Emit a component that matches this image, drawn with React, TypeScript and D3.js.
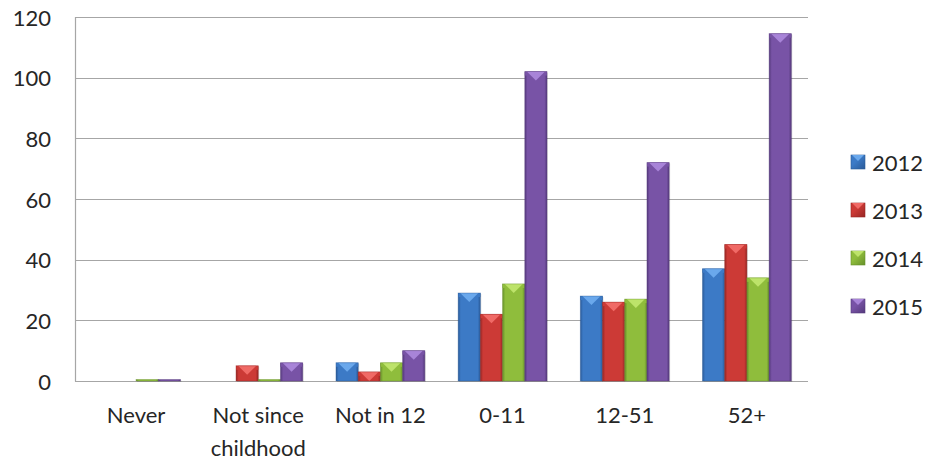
import React from "react";
import * as d3 from "d3";

const categories = ["Never", "Not since childhood", "Not in 12", "0-11", "12-51", "52+"];
const seriesNames = ["2012", "2013", "2014", "2015"];
const values2012 = [0, 0, 6, 29, 28, 37];
const values2013 = [0, 5, 3, 22, 26, 45];
const values2014 = [0.5, 0.5, 6, 32, 27, 34];
const values2015 = [0.5, 6, 10, 102, 72, 114.5];
const yTicks = [0, 20, 40, 60, 80, 100, 120];

const seriesValues = [values2012, values2013, values2014, values2015];
const colors = [
  { base: "#3c7ac6", dark: "#2a5a98", light: "#6aa8ec" },
  { base: "#cc3a36", dark: "#962624", light: "#f06a66" },
  { base: "#8fbd3c", dark: "#66902a", light: "#bde36a" },
  { base: "#7853a6", dark: "#553a7c", light: "#a884d8" },
];

const W = 932;
const H = 462;
const M = { left: 75, right: 808, top: 17, bottom: 381 };
const FONT = "Lato, 'Open Sans', sans-serif";

export default function App() {
  const x0 = d3.scaleBand<string>().domain(categories).range([M.left, M.right]).paddingInner(0).paddingOuter(0);
  const inner = x0.bandwidth();
  const groupW = inner * (4 / 5.5);
  const x1 = d3
    .scaleBand<string>()
    .domain(seriesNames)
    .range([(inner - groupW) / 2, (inner + groupW) / 2])
    .padding(0);
  const y = d3.scaleLinear().domain([0, 120]).range([M.bottom, M.top]);

  const labelLines: Record<string, string[]> = {
    "Not since childhood": ["Not since", "childhood"],
  };

  return (
    <svg width={W} height={H} style={{ position: "absolute", left: 0, top: 0, background: "#fff" }}>
      <defs>
        {colors.map((c, i) => (
          <linearGradient key={i} id={`g${i}`} x1="0" x2="1" y1="0" y2="0">
            <stop offset="0" stopColor={c.dark} />
            <stop offset="0.12" stopColor={c.base} />
            <stop offset="0.5" stopColor={c.base} />
            <stop offset="0.88" stopColor={c.base} />
            <stop offset="1" stopColor={c.dark} />
          </linearGradient>
        ))}
        {colors.map((c, i) => (
          <linearGradient key={"l" + i} id={`lg${i}`} x1="0" x2="1" y1="0" y2="1">
            <stop offset="0" stopColor={c.base} />
            <stop offset="0.4" stopColor={c.base} />
            <stop offset="1" stopColor={c.dark} />
          </linearGradient>
        ))}
      </defs>

      {/* gridlines */}
      {yTicks.map((t) => (
        <line
          key={t}
          x1={M.left}
          x2={M.right}
          y1={Math.round(y(t)) + 0.5}
          y2={Math.round(y(t)) + 0.5}
          stroke="#a6a6a6"
          strokeWidth={1.2}
        />
      ))}
      <line x1={M.left + 0.5} x2={M.left + 0.5} y1={M.top} y2={M.bottom + 0.5} stroke="#a6a6a6" strokeWidth={1.2} />

      {/* y tick labels */}
      {yTicks.map((t) => (
        <text
          key={"t" + t}
          x={51}
          y={y(t)}
          textAnchor="end"
          dominantBaseline="central"
          fontFamily={FONT}
          fontSize={22}
          fill="#262626"
        >
          {t}
        </text>
      ))}

      {/* bars */}
      {categories.map((cat, ci) => (
        <g key={cat} transform={`translate(${x0(cat)},0)`}>
          {seriesNames.map((s, si) => {
            const v = seriesValues[si][ci];
            if (v <= 0) return null;
            const bx = x1(s)!;
            const bw = x1.bandwidth();
            const top = y(v);
            const h = M.bottom - top;
            const c = colors[si];
            const bev = Math.min(4, h / 2);
            const tri = Math.min(9, h);
            return (
              <g key={s}>
                <rect x={bx + 1} y={top + 1} width={bw} height={h} fill="#000" opacity={0.12} />
                <rect x={bx} y={top} width={bw} height={h} fill={`url(#g${si})`} />
                {h > 2 && (
                  <>
                    <rect x={bx} y={top} width={bw} height={bev} fill={c.base} />
                    <polygon
                      points={`${bx + 2},${top} ${bx + bw - 2},${top} ${bx + bw / 2},${top + tri}`}
                      fill={c.light}
                    />
                  </>
                )}
                <rect x={bx} y={top} width={bw} height={h} fill="none" stroke={c.dark} strokeOpacity={0.5} strokeWidth={0.8} />
              </g>
            );
          })}
        </g>
      ))}

      {/* category labels */}
      {categories.map((cat) => {
        const lines = labelLines[cat] || [cat];
        const cx = x0(cat)! + inner / 2;
        return (
          <text key={"c" + cat} x={cx} textAnchor="middle" fontFamily={FONT} fontSize={22} fill="#262626">
            {lines.map((ln, li) => (
              <tspan key={li} x={cx} y={423 + li * 33}>
                {ln}
              </tspan>
            ))}
          </text>
        );
      })}

      {/* legend */}
      {seriesNames.map((s, i) => {
        const cy = 162 + i * 48;
        const c = colors[i];
        return (
          <g key={"leg" + s}>
            <rect x={851} y={cy - 7} width={14} height={14} fill={`url(#lg${i})`} stroke={c.dark} strokeWidth={0.6} />
            <polygon points={`${852},${cy - 7} ${864},${cy - 7} ${858},${cy - 1}`} fill={c.light} />
            <text x={872} y={cy} dominantBaseline="central" fontFamily={FONT} fontSize={22} fill="#262626">
              {s}
            </text>
          </g>
        );
      })}
    </svg>
  );
}
